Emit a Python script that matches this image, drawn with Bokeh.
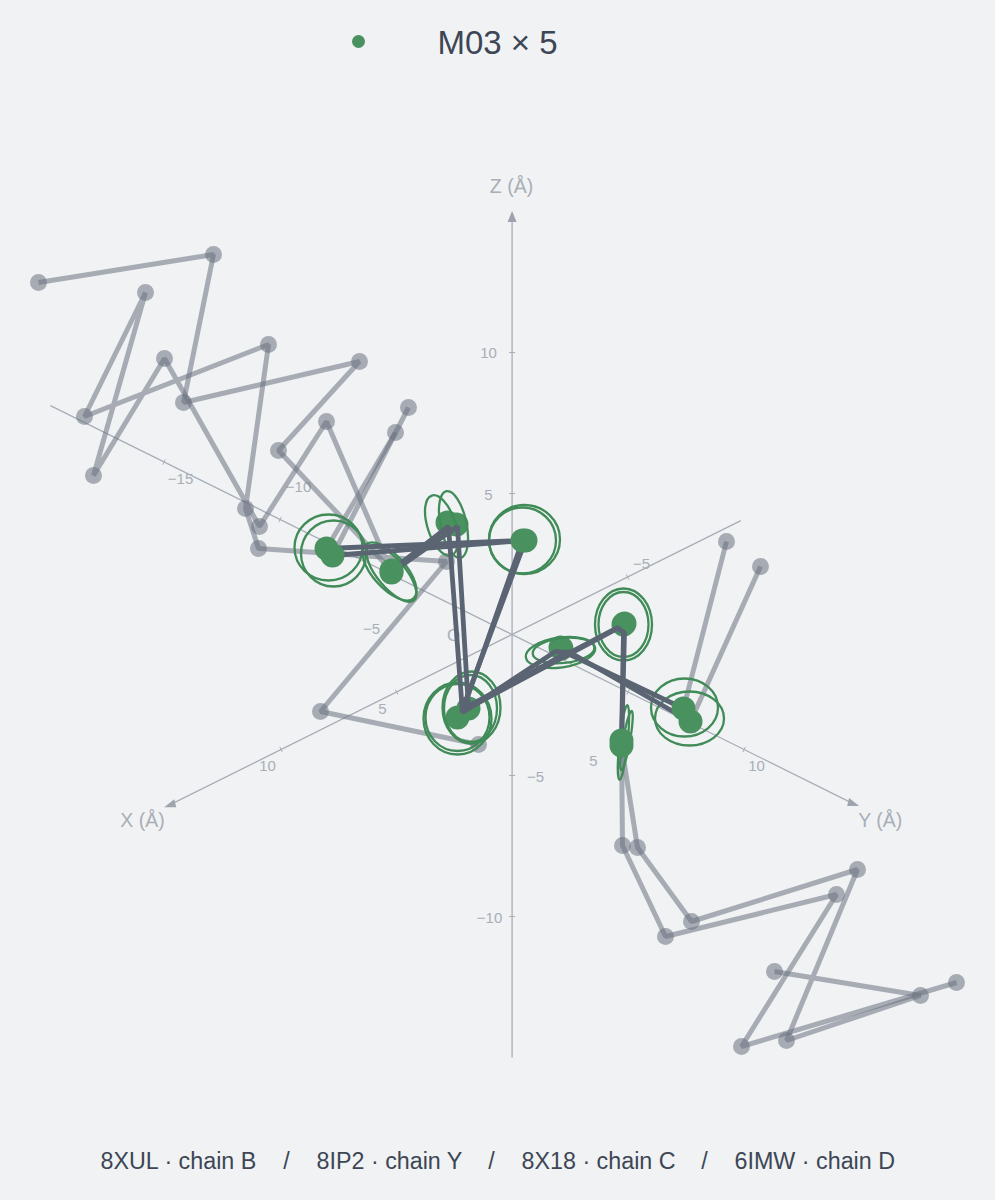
from bokeh.plotting import figure
from bokeh.models import Range1d
from bokeh.embed import file_html
from bokeh.resources import INLINE
from bokeh.core.properties import value
import math

BG = "#f0f2f4"
FONT = value("Liberation Sans")

# Data, in projected plane units (1 unit = 1 screen pixel)
ORIGIN = (511.6, 634)
X_STEP = (-23.1, 11.5)
Y_STEP = (23.2, 11.5)
Z_STEP = (0, -28.2)
x_ticks = [-5, 5, 10]
y_ticks = [-15, -10, -5, 5, 10]
z_ticks = [-10, -5, 5, 10]
x_end, x_start = 14.8, -9.9
y_end, y_start = 14.7, -19.9
z_end, z_start = 14.7, -15

# label anchors
x_tick_labels = {"\u22125": (641, 563), "5": (382, 708), "10": (267, 765)}
y_tick_labels = {"\u221215": (180, 478), "\u221210": (298, 486), "\u22125": (371, 628), "5": (593, 760), "10": (756, 765)}
z_tick_labels = {"\u221210": (489, 917), "\u22125": (535, 776), "5": (488, 494), "10": (488, 352)}

legend_name = "M03 \u00d7 5"
footer_names = ["8XUL \u00b7 chain B", "8IP2 \u00b7 chain Y", "8X18 \u00b7 chain C", "6IMW \u00b7 chain D"]

# Grey tails (outside the M03 stretch)
tail_a_x = [38, 213, 183, 359, 278, 391]
tail_a_y = [282, 254, 402, 361, 450, 570]
tail_b_x = [478, 320, 446, 258, 245, 268, 84, 145, 93, 164, 259, 326, 391]
tail_b_y = [744, 711, 561, 548, 508, 344, 416, 292, 475, 358, 526, 421, 572]
tail_c_x = [395, 326]
tail_c_y = [432, 548]
tail_d_x = [408, 332]
tail_d_y = [407, 555]
tail_e_x = [726, 683]
tail_e_y = [541, 708]
tail_f_x = [760, 690]
tail_f_y = [566, 721]
tail_g_x = [621, 622, 665, 836, 741, 956]
tail_g_y = [740, 845, 936, 894, 1046, 982]
tail_h_x = [621, 637, 691, 857, 786, 920, 774]
tail_h_y = [745, 847, 921, 869, 1040, 995, 971]
tails_x = [tail_a_x, tail_b_x, tail_c_x, tail_d_x, tail_e_x, tail_f_x, tail_g_x, tail_h_x]
tails_y = [tail_a_y, tail_b_y, tail_c_y, tail_d_y, tail_e_y, tail_f_y, tail_g_y, tail_h_y]

# Dark M03 backbones
chain1_x = [326, 522, 463, 617, 623, 621]
chain1_y = [548, 540, 708, 627, 632, 740]
chain2_x = [332, 525, 461, 617, 624, 621]
chain2_y = [555, 540, 711, 628, 632, 745]
chain3_x = [391, 448, 462, 555, 565, 683]
chain3_y = [570, 526, 712, 651, 652, 708]
chain4_x = [391, 457, 468, 568, 690]
chain4_y = [572, 526, 708, 651, 721]
chains_x = [chain1_x, chain2_x, chain3_x, chain4_x]
chains_y = [chain1_y, chain2_y, chain3_y, chain4_y]

# Atoms beneath the dark backbones, and atoms above them
under_x = [457, 468, 560, 561, 623, 624, 447, 456]
under_y = [717, 708, 647, 648, 624, 623, 522, 524]
over_x = [326, 332, 391, 391, 522, 525, 683, 690, 621, 621]
over_y = [548, 555, 570, 572, 540, 540, 708, 721, 740, 745]

# Uncertainty ellipses: centre, width, height, tilt in degrees
ell_x = [328, 333, 389, 391, 441, 453, 524, 522, 457, 457, 471, 470, 560, 563, 623, 623, 684, 689, 623, 626]
ell_y = [547, 553, 571, 573, 525, 524, 539, 540, 718, 717, 707, 708, 652, 650, 624, 624, 707, 718, 742, 740]
ell_w = [68, 65, 72, 70, 63, 68, 71, 67, 68, 64, 58, 53, 70, 62, 57, 50, 67, 69, 75, 60]
ell_h = [66, 66, 33, 28, 28, 26, 69, 66, 72, 67, 72, 67, 30, 25, 72, 65, 58, 54, 8, 7]
ell_a = [0, 0, -48, -50, -72, -78, 0, 0, 0, 0, 0, 0, 8, 6, 0, 0, 0, 0, 84, 80]

W, H = 979, 1184
p = figure(width=W, height=H, x_range=Range1d(0, W), y_range=Range1d(H, 0),
           output_backend="svg", toolbar_location=None, min_border=0,
           background_fill_color=BG, border_fill_color=BG, outline_line_color=None)
p.axis.visible = False
p.grid.visible = False

AX = "#a8adb7"
TICK = "#a9aeb7"
TEXT = "#3d4654"


def proj(step, t):
    return ORIGIN[0] + step[0] * t, ORIGIN[1] + step[1] * t


# axes
for step, a, b in [(X_STEP, x_start, x_end), (Y_STEP, y_start, y_end), (Z_STEP, z_start, z_end)]:
    x0, y0 = proj(step, a)
    x1, y1 = proj(step, b)
    p.line([x0, x1], [y0, y1], line_color=AX, line_width=1.3)

for step, ticks, dx, dy in [(X_STEP, x_ticks, 1.3, 2.6), (Y_STEP, y_ticks, 1.3, -2.6)]:
    for t in ticks:
        cx, cy = proj(step, t)
        p.line([cx - dx, cx + dx], [cy - dy, cy + dy], line_color=AX, line_width=1)
for t in z_ticks:
    cx, cy = proj(Z_STEP, t)
    p.line([cx - 3, cx + 3], [cy, cy], line_color=AX, line_width=1)

# arrow heads
for step, t, dxs, dys in [(X_STEP, x_end, [-6, 6, 4], [2.5, 2.5, -5.5]),
                          (Y_STEP, y_end, [6, -6, -4], [2.5, 2.5, -5.5]),
                          (Z_STEP, z_end, [0, -4.5, 4.5], [-9, 2, 2])]:
    cx, cy = proj(step, t)
    p.patch([cx + d for d in dxs], [cy + d for d in dys], fill_color="#9ea3ad", line_color=None)

for labels in (x_tick_labels, y_tick_labels, z_tick_labels):
    for s, (lx, ly) in labels.items():
        p.text([lx], [ly], text=[s], text_align="center", text_baseline="middle",
               text_font=FONT, text_font_size="15px", text_color=TICK)

for s, lx, ly in [("X (\u00c5)", 142, 819), ("Y (\u00c5)", 880, 819), ("Z (\u00c5)", 511, 185), ("O", 453, 635)]:
    p.text([lx], [ly], text=[s], text_align="center", text_baseline="middle",
           text_font=FONT, text_font_size="19.5px" if s != "O" else "17px", text_color=TICK)

# grey tails
for xs, ys in zip(tails_x, tails_y):
    p.scatter(xs, ys, size=17, marker="circle",
              fill_color="#6b7280", fill_alpha=0.55, line_color=None)
p.multi_line(tails_x, tails_y, line_color="#6b7280", line_alpha=0.55, line_width=5)

GREEN = "#4a9160"
RING = "#418b58"
p.scatter(under_x, under_y, size=24, marker="circle", fill_color=GREEN, line_color=None)
p.ellipse(ell_x, ell_y, width=ell_w, height=ell_h, angle=[math.radians(a) for a in ell_a],
          fill_color=None, line_color=RING, line_width=2.3)
p.multi_line(chains_x, chains_y, line_color="#5b6472", line_width=4.8)
p.scatter(over_x, over_y, size=24, marker="circle", fill_color=GREEN, line_color=None)

# legend
p.scatter([358], [41], size=13, marker="circle", fill_color=GREEN, line_color=None)
p.text([437], [42], text=[legend_name], text_align="left", text_baseline="middle",
       text_font=FONT, text_font_size="33px", text_color=TEXT)

# footer
foot_x = [100, 316, 521, 734]
for s, lx in zip(footer_names, foot_x):
    p.text([lx], [1160], text=[s], text_align="left", text_baseline="middle",
           text_font=FONT, text_font_size="23.3px", text_color=TEXT)
for lx in [286, 491, 704]:
    p.text([lx], [1160], text=["/"], text_align="center", text_baseline="middle",
           text_font=FONT, text_font_size="23.3px", text_color=TEXT)

html = file_html(p, INLINE)
html = html.replace("<head>", "<head><style>html,body{background:%s}</style>" % BG, 1)
open("out.html", "w").write(html)
